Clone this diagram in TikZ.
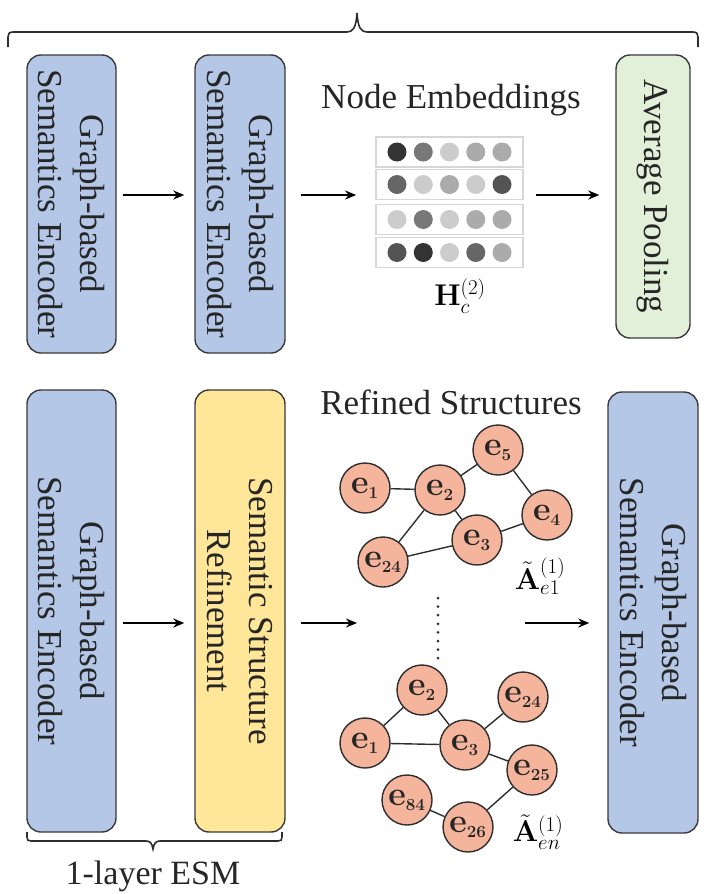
\RequirePackage{fix-cm}
\documentclass[tikz,border=0pt]{standalone}
\usepackage[no-math]{fontspec}
\setmainfont{Liberation Serif}
\usetikzlibrary{arrows.meta,fit}

\definecolor{encblue}{HTML}{B4C7E7}
\definecolor{refyellow}{HTML}{FFE699}
\definecolor{poolgreen}{HTML}{E2F0D9}
\definecolor{entfill}{HTML}{F5B49C}
\definecolor{boxline}{HTML}{3A3A3A}
\definecolor{edgecol}{HTML}{2E2E2E}
\definecolor{textgray}{HTML}{262626}
\definecolor{rowline}{HTML}{D6D6D6}

\newcommand\boxfont{\fontsize{35}{42}\selectfont}
\newcommand\entfont{\fontsize{34}{40}\selectfont}
\newcommand\mathlabelfont{\fontsize{30}{36}\selectfont}
% entity label: bold e with a compact bold index
\newcommand\ent[1]{$\mathbf{e}_{\scriptscriptstyle\mathbf{#1}}$}

\begin{document}
\begin{tikzpicture}[x=1pt,y=-1pt,
  box/.style={rounded corners=14pt, draw=boxline, line width=1.4pt, rotate=-90,
              align=center, text=textgray, font=\boxfont, inner sep=0pt},
  enc/.style={box, fill=encblue},
  entity/.style={circle, draw=edgecol, line width=1.4pt, fill=entfill,
              minimum size=50pt, inner sep=0pt, font=\entfont, text=textgray},
  link/.style={draw=edgecol, line width=1.4pt},
  flow/.style={-{Stealth[length=11pt,width=9pt]}, line width=2pt, draw=black},
  embrow/.style={draw=rowline, line width=1.3pt, minimum width=147pt,
                 minimum height=30pt, inner sep=0pt},
  cell/.style={circle, minimum size=19pt, inner sep=0pt},
  brace/.style={draw=edgecol, line width=1.6pt},
  caption/.style={font=\boxfont, text=textgray, inner sep=0pt}
]
\useasboundingbox (0,0) rectangle (704,894);

% ---------- upper pipeline ----------
\node[enc, minimum width=298pt, minimum height=89pt] (encA) at (71.5,204)
  {Graph-based\\Semantics Encoder};
\node[enc, minimum width=298pt, minimum height=90pt] (encB) at (240,204)
  {Graph-based\\Semantics Encoder};
\node[box, fill=poolgreen, minimum width=283pt, minimum height=74pt] (pool) at (653,196.5)
  {Average Pooling};

\node[caption] (embtitle) at (451,100) {Node Embeddings};

% embedding matrix: four rows of shaded cells
\foreach \r/\yy/\shades in {1/152/{80,53,20,33,33},
                            2/184.5/{60,20,33,20,67},
                            3/219.5/{20,53,20,33,33},
                            4/252.5/{67,80,20,60,33}}{
  \node[embrow] (row\r) at (449.5,\yy) {};
  \foreach \s [count=\c] in \shades {
    \node[cell, fill=black!\s] (cell\r\c) at (370.75+26.25*\c,\yy) {};
  }
}
\node[fit=(row1)(row4), inner sep=0pt] (emb) {};
\node[inner sep=0pt, font=\mathlabelfont] (hlabel) at (460,296) {$\mathbf{H}_c^{(2)}$};

\coordinate (topline) at (0,195);
\draw[flow, shorten <=6pt, shorten >=10pt] (encA.north |- topline) -- (encB.south |- topline);
\draw[flow, shorten <=15pt, shorten >=19pt] (encB.north |- topline) -- (emb.west |- topline);
\draw[flow, shorten <=12pt, shorten >=16pt] (emb.east |- topline) -- (pool.south |- topline);

% ---------- lower pipeline (one ESM layer) ----------
\node[enc, minimum width=442pt, minimum height=89pt] (encC) at (71.5,611)
  {Graph-based\\Semantics Encoder};
\node[box, fill=refyellow, minimum width=442pt, minimum height=90pt] (ssr) at (240,611)
  {Semantic Structure\\Refinement};
\node[enc, minimum width=441pt, minimum height=90pt] (encD) at (653,612.5)
  {Graph-based\\Semantics Encoder};

\node[caption] (reftitle) at (451,402) {Refined Structures};

% first refined graph
\node[entity] (a1)  at (365,488) {\ent{1}};
\node[entity] (a2)  at (440,490) {\ent{2}};
\node[entity] (a5)  at (498,450) {\ent{5}};
\node[entity] (a4)  at (547,515) {\ent{4}};
\node[entity] (a3)  at (477,540) {\ent{3}};
\node[entity] (a24) at (383,562) {\ent{24}};
\draw[link] (a1) -- (a2);
\draw[link] (a2) -- (a5);
\draw[link] (a5) -- (a4);
\draw[link] (a2) -- (a3);
\draw[link] (a2) -- (a24);
\draw[link] (a24) -- (a3);
\draw[link] (a3) -- (a4);
\node[inner sep=0pt, font=\mathlabelfont] (lab1) at (540,576) {$\tilde{\mathbf{A}}^{(1)}_{e1}$};

% vertical ellipsis between the graphs
\draw[line width=3pt, line cap=round, dash pattern=on 0pt off 8.6pt, draw=edgecol]
  (438,598) -- (438,664);

% last refined graph
\node[entity] (b2)  at (422,690) {\ent{2}};
\node[entity] (b24) at (523,697) {\ent{24}};
\node[entity] (b1)  at (365,743) {\ent{1}};
\node[entity] (b3)  at (465,745) {\ent{3}};
\node[entity] (b25) at (532,770) {\ent{25}};
\node[entity] (b84) at (407,800) {\ent{84}};
\node[entity] (b26) at (468,827) {\ent{26}};
\draw[link] (b1) -- (b2);
\draw[link] (b2) -- (b3);
\draw[link] (b1) -- (b3);
\draw[link] (b3) -- (b24);
\draw[link] (b3) -- (b25);
\draw[link] (b84) -- (b26);
\draw[link] (b26) -- (b25);
\node[inner sep=0pt, font=\mathlabelfont] (lab2) at (538,832) {$\tilde{\mathbf{A}}^{(1)}_{en}$};

\coordinate (botline) at (0,623);
\coordinate (gin) at (357,623);
\coordinate (gout) at (525,623);
\draw[flow, shorten <=6pt, shorten >=10pt] (encC.north |- botline) -- (ssr.south |- botline);
\draw[flow, shorten <=15pt] (ssr.north |- botline) -- (gin);
\draw[flow, shorten >=18pt] (gout) -- (encD.south |- botline);

% ---------- braces ----------
\draw[brace] (8,47) -- (8,37) .. controls (8,34) and (9,32) .. (13,32) -- (347,32)
  .. controls (353,32) and (356,28) .. (357,13)
  .. controls (358,28) and (361,32) .. (367,32) -- (693,32)
  .. controls (697,32) and (698,34) .. (698,37) -- (698,47);

\draw[brace] (27,832) -- (27,837) .. controls (27,840) and (28,841) .. (31,841) -- (146,841)
  .. controls (150,841) and (152,843) .. (153,849)
  .. controls (154,843) and (156,841) .. (160,841) -- (278,841)
  .. controls (281,841) and (282,840) .. (282,837) -- (282,832);
\node[caption, font=\fontsize{34}{40}\selectfont] (esm) at (153,876) {1-layer ESM};

\end{tikzpicture}
\end{document}
